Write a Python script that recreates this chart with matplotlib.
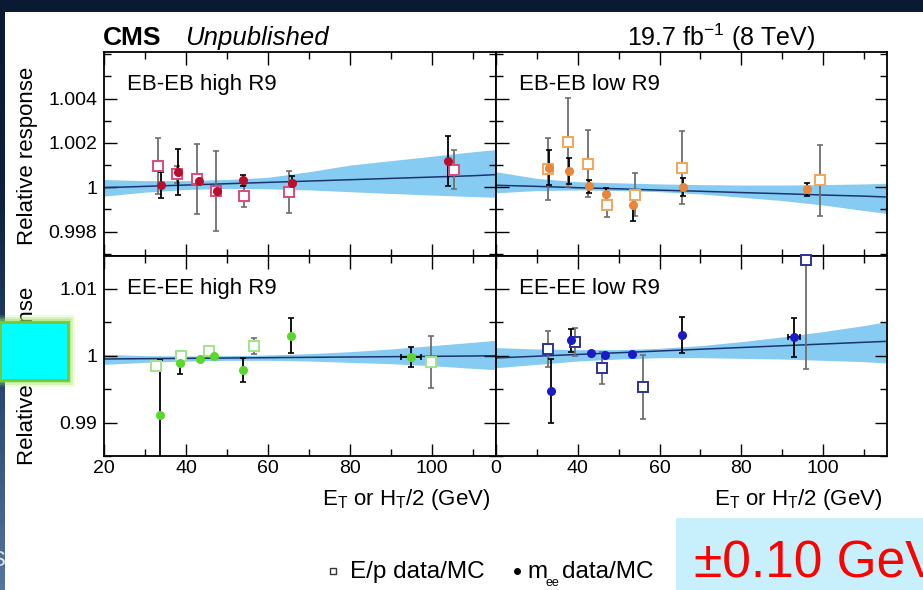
import numpy as np
import matplotlib
matplotlib.use("Agg")
import matplotlib.pyplot as plt
from matplotlib.patches import Rectangle
from matplotlib.lines import Line2D
from matplotlib.ticker import MultipleLocator, FuncFormatter
from matplotlib.colors import LinearSegmentedColormap

plt.rcParams['font.family'] = ['Liberation Sans', 'DejaVu Sans']
plt.rcParams['mathtext.fontset'] = 'custom'
plt.rcParams['mathtext.rm'] = 'Liberation Sans'
plt.rcParams['mathtext.it'] = 'Liberation Sans:italic'
plt.rcParams['mathtext.bf'] = 'Liberation Sans:bold'

# ---- data ----
x_ticks = [20, 40, 60, 80, 100]
x_labels_left = ['20', '40', '60', '80', '100']
x_labels_right = ['0', '40', '60', '80', '100']
y_ticks_eb = [0.998, 1.0, 1.002, 1.004]
y_ticks_ee = [0.99, 1.0, 1.01]

band_x = [20, 30, 40, 50, 60, 70, 80, 90, 100, 110, 115.6]

# EB-EB high R9
ebh_ep_x = [33.1, 37.8, 42.8, 47.3, 54.1, 65.1, 105.4]
ebh_ep_y = [1.00096, 1.00058, 1.00038, 0.99983, 0.99961, 0.99980, 1.00080]
ebh_ep_err = [0.00128, 0.00040, 0.00158, 0.00180, 0.00050, 0.00095, 0.00090]
ebh_mee_x = [33.8, 38.0, 43.2, 47.5, 53.8, 65.9, 104.0]
ebh_mee_y = [1.00010, 1.00068, 1.00027, 0.99985, 1.00032, 1.00021, 1.00119]
ebh_mee_err = [0.00058, 0.00105, 0.00010, 0.00008, 0.00025, 0.00030, 0.00112]
ebh_mee_xerr = [0, 0, 0, 0, 0, 0, 0]
ebh_band_c = [0.99998, 1.00004, 1.00010, 1.00016, 1.00022, 1.00028, 1.00034, 1.00040, 1.00046, 1.00052, 1.00057]
ebh_band_hi = [1.00035, 1.00030, 1.00030, 1.00035, 1.00045, 1.00070, 1.00100, 1.00120, 1.00140, 1.00160, 1.00170]
ebh_band_lo = [0.99960, 0.99978, 0.99990, 0.99995, 0.99993, 0.99988, 0.99980, 0.99972, 0.99965, 0.99958, 0.99955]

# EB-EB low R9
ebl_ep_x = [32.6, 37.7, 42.6, 47.2, 53.9, 65.5, 99.1]
ebl_ep_y = [1.00081, 1.00202, 1.00107, 0.99922, 0.99967, 1.00089, 1.00032]
ebl_ep_err = [0.00140, 0.00200, 0.00150, 0.00055, 0.00098, 0.00165, 0.00160]
ebl_mee_x = [33.0, 37.9, 42.8, 46.8, 53.5, 65.6, 96.0]
ebl_mee_y = [1.00088, 1.00074, 1.00005, 0.99968, 0.99919, 1.00002, 0.99991]
ebl_mee_err = [0.00080, 0.00060, 0.00030, 0.00030, 0.00070, 0.00040, 0.00030]
ebl_mee_xerr = [0, 0, 0, 0, 0, 0, 0]
ebl_band_c = [1.00009, 1.00004, 0.99998, 0.99993, 0.99987, 0.99982, 0.99976, 0.99971, 0.99965, 0.99960, 0.99956]
ebl_band_hi = [1.00070, 1.00040, 1.00025, 1.00020, 1.00015, 1.00012, 1.00010, 1.00010, 1.00012, 1.00015, 1.00018]
ebl_band_lo = [0.99975, 0.99985, 0.99988, 0.99985, 0.99980, 0.99970, 0.99955, 0.99940, 0.99920, 0.99895, 0.99882]

# EE-EE high R9
eeh_ep_x = [32.8, 38.9, 45.7, 56.6, 99.8]
eeh_ep_y = [0.99850, 0.99990, 1.00064, 1.00140, 0.99900]
eeh_ep_err = [0.00030, 0.00030, 0.00030, 0.00120, 0.00390]
eeh_mee_x = [33.7, 38.5, 43.4, 46.8, 53.8, 65.6, 94.8]
eeh_mee_y = [0.99119, 0.99891, 0.99950, 0.99990, 0.99780, 1.00300, 0.99980]
eeh_mee_err = [0.00820, 0.00160, 0.00020, 0.00020, 0.00180, 0.00260, 0.00150]
eeh_mee_xerr = [0, 0, 0, 0, 0, 0, 2.4]
eeh_band_c = [0.99950, 0.99955, 0.99960, 0.99965, 0.99970, 0.99975, 0.99980, 0.99985, 0.99990, 0.99995, 1.00000]
eeh_band_hi = [1.00020, 1.00000, 0.99995, 1.00000, 1.00010, 1.00030, 1.00060, 1.00100, 1.00150, 1.00200, 1.00230]
eeh_band_lo = [0.99870, 0.99900, 0.99920, 0.99930, 0.99930, 0.99920, 0.99900, 0.99880, 0.99850, 0.99810, 0.99790]

# EE-EE low R9
eel_ep_x = [32.8, 39.3, 45.8, 56.0, 95.7]
eel_ep_y = [1.00100, 1.00200, 0.99816, 0.99533, 1.01430]
eel_ep_err = [0.00270, 0.00210, 0.00240, 0.00480, 0.01630]
eel_mee_x = [33.4, 38.3, 43.3, 46.6, 53.3, 65.4, 92.8]
eel_mee_y = [0.99467, 1.00229, 1.00034, 1.00005, 1.00030, 1.00303, 1.00273]
eel_mee_err = [0.00480, 0.00170, 0.00020, 0.00020, 0.00020, 0.00270, 0.00290]
eel_mee_xerr = [0, 0, 0, 0, 0, 0, 1.5]
eel_band_c = [0.99966, 0.99992, 1.00018, 1.00044, 1.00070, 1.00096, 1.00122, 1.00148, 1.00174, 1.00200, 1.00214]
eel_band_hi = [1.00120, 1.00100, 1.00090, 1.00090, 1.00110, 1.00150, 1.00210, 1.00280, 1.00360, 1.00450, 1.00510]
eel_band_lo = [0.99820, 0.99870, 0.99920, 0.99950, 0.99970, 0.99970, 0.99960, 0.99950, 0.99930, 0.99910, 0.99890]

# ---- layout helpers (pixels of the 923x590 picture) ----
W, H = 923, 590


def fx(x):
    return x / W


def fy(y):
    return 1 - y / H


def box(x0, y0, x1, y1):
    return [x0 / W, 1 - y1 / H, (x1 - x0) / W, (y1 - y0) / H]


fig = plt.figure(figsize=(W / 100, H / 100), dpi=100)
fig.patch.set_facecolor('#0b1a33')

# white screenshot area
fig.add_artist(Rectangle((fx(5), 0), 1 - fx(5), fy(12), transform=fig.transFigure,
                         facecolor='white', edgecolor='none', zorder=-5))

# slide background strip on the left
gax = fig.add_axes(box(0, 12, 5, 590))
cmap = LinearSegmentedColormap.from_list('slide', ['#0b1a33', '#0f2240', '#2a4674', '#55759f'])
gax.imshow(np.linspace(0, 1, 100).reshape(-1, 1), aspect='auto', cmap=cmap)
gax.axis('off')

panels = [
    ('EB-EB high R9', (104, 52, 496, 256), (0.9969, 1.0061), y_ticks_eb, 0.001,
     ebh_ep_x, ebh_ep_y, ebh_ep_err, ebh_mee_x, ebh_mee_y, ebh_mee_err, ebh_mee_xerr,
     ebh_band_c, ebh_band_lo, ebh_band_hi, '#b8102c', '#dc4a7c'),
    ('EB-EB low R9', (496, 52, 887, 256), (0.9969, 1.0061), y_ticks_eb, 0.001,
     ebl_ep_x, ebl_ep_y, ebl_ep_err, ebl_mee_x, ebl_mee_y, ebl_mee_err, ebl_mee_xerr,
     ebl_band_c, ebl_band_lo, ebl_band_hi, '#e8863a', '#f2a45a'),
    ('EE-EE high R9', (104, 256, 496, 456), (0.9850, 1.0149), y_ticks_ee, 0.005,
     eeh_ep_x, eeh_ep_y, eeh_ep_err, eeh_mee_x, eeh_mee_y, eeh_mee_err, eeh_mee_xerr,
     eeh_band_c, eeh_band_lo, eeh_band_hi, '#5ad62e', '#a2e48a'),
    ('EE-EE low R9', (496, 256, 887, 456), (0.9850, 1.0149), y_ticks_ee, 0.005,
     eel_ep_x, eel_ep_y, eel_ep_err, eel_mee_x, eel_mee_y, eel_mee_err, eel_mee_xerr,
     eel_band_c, eel_band_lo, eel_band_hi, '#1a1ac8', '#2c3496'),
]

for i, (name, pos, ylim, yt, ymin, epx, epy, epe, mx, my, me, mxe,
        bc, blo, bhi, col_m, col_ep) in enumerate(panels):
    ax = fig.add_axes(box(*pos))
    ax.fill_between(band_x, blo, bhi, color='#86cbf2', lw=0, zorder=1)
    ax.plot(band_x, bc, color='#1b3470', lw=1.1, zorder=2)

    ax.errorbar(epx, epy, yerr=epe, fmt='none', ecolor='#6e6e6e', elinewidth=1.3,
                capsize=2, capthick=1.2, zorder=3)
    ax.errorbar(mx, my, yerr=me, xerr=mxe, fmt='none', ecolor='black', elinewidth=1.3,
                capsize=2, capthick=1.2, zorder=4)
    ax.plot(epx, epy, 's', ms=7.5, mfc='white', mec=col_ep, mew=1.4, zorder=5, clip_on=False)
    ax.plot(mx, my, 'o', ms=5.5, color=col_m, zorder=6)

    ax.set_xlim(20, 115.6)
    ax.set_ylim(*ylim)
    ax.set_yticks(yt)
    ax.yaxis.set_minor_locator(MultipleLocator(ymin))
    ax.yaxis.set_major_formatter(FuncFormatter(lambda v, p: '%g' % round(v, 4)))
    ax.set_xticks(x_ticks, x_labels_left if i % 2 == 0 else x_labels_right)
    ax.xaxis.set_minor_locator(MultipleLocator(10))
    ax.tick_params(which='both', direction='in', top=True, right=True, labelsize=14, width=1)
    ax.tick_params(which='major', length=9)
    ax.tick_params(which='minor', length=5)
    ax.tick_params(axis='x', pad=3)
    ax.tick_params(axis='y', pad=5)
    if i < 2:
        ax.tick_params(labelbottom=False)
    if i % 2 == 1:
        ax.tick_params(labelleft=False)
    for sp in ax.spines.values():
        sp.set_linewidth(1.3)

    x0, y0 = pos[0], pos[1]
    fig.text(fx(x0 + 23), fy(y0 + 38), name, fontsize=16, va='baseline', ha='left')

# header
fig.text(fx(103), fy(45), 'CMS', fontsize=19, fontweight='bold', va='baseline')
fig.text(fx(185), fy(45), 'Unpublished', fontsize=18.5, style='italic', va='baseline')
fig.text(fx(815), fy(46), r'19.7 fb$^{-1}$ (8 TeV)', fontsize=18, ha='right', va='baseline')

# axis titles
fig.text(fx(28), fy(156), 'Relative response', rotation=90, fontsize=16, ha='center', va='center')
fig.text(fx(28), fy(376), 'Relative response', rotation=90, fontsize=16, ha='center', va='center')
xlab = r'E$_{\mathrm{T}}$ or H$_{\mathrm{T}}$/2 (GeV)'
fig.text(fx(490), fy(505), xlab, fontsize=16, ha='right', va='baseline')
fig.text(fx(882), fy(505), xlab, fontsize=16, ha='right', va='baseline')

# legend
fig.add_artist(Line2D([fx(333)], [fy(571)], marker='s', ms=5, mfc='white', mec='#333333',
                      mew=1, transform=fig.transFigure))
fig.text(fx(350), fy(578), 'E/p data/MC', fontsize=17.5, va='baseline')
fig.add_artist(Line2D([fx(517)], [fy(571)], marker='o', ms=4, color='black',
                      transform=fig.transFigure))
fig.text(fx(527), fy(578), 'm', fontsize=17.5, va='baseline')
fig.text(fx(545), fy(586), 'ee', fontsize=9, va='baseline')
fig.text(fx(562), fy(578), 'data/MC', fontsize=17.5, va='baseline')

# slide overlays
for grow, a in [(7, 0.15), (5, 0.25), (3, 0.4)]:
    fig.add_artist(Rectangle((fx(-grow), fy(380 + grow)), (68 + 2 * grow) / W, (58 + 2 * grow) / H,
                             transform=fig.transFigure, facecolor='#8fe050', alpha=a,
                             edgecolor='none', zorder=9))
fig.add_artist(Rectangle((fx(0), fy(380)), 68 / W, 58 / H, transform=fig.transFigure,
                         facecolor='#00ffff', edgecolor='#74c83a', lw=2, zorder=10))
fig.add_artist(Rectangle((fx(676), 0), 1 - fx(676), fy(518), transform=fig.transFigure,
                         facecolor='#c8f0fc', edgecolor='none', zorder=10))
fig.text(fx(694), fy(577), '±0.10 GeV', color='#ff0000', fontsize=37, va='baseline', zorder=11)
fig.text(fx(6), fy(566), 'S', color='#dfe6f0', fontsize=16, ha='right', va='baseline', zorder=11)

fig.savefig('out.png', dpi=100, facecolor=fig.get_facecolor())
